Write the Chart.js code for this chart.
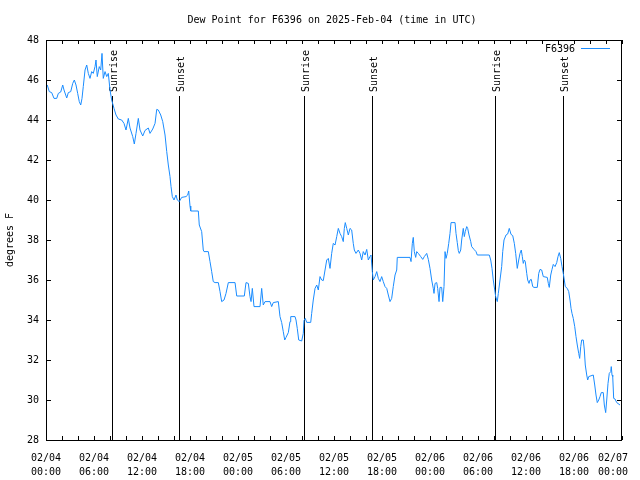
<!DOCTYPE html>
<html><head><meta charset="utf-8">
<script src="https://cdn.jsdelivr.net/npm/chart.js@4/dist/chart.umd.min.js"></script>
<style>html,body{margin:0;padding:0;background:#fff}#wrap{width:640px;height:480px}</style>
</head><body><div id="wrap"><canvas id="c" width="640" height="480"></canvas></div>
<script>
// hours since 2025-02-04 00:00 UTC
const hours = [
0.16,0.41,0.71,1.0,1.34,1.54,1.84,2.09,2.25,2.59,2.79,3.09,3.34,3.54,3.75,3.96,4.16,4.34,4.5,4.66,
4.88,5.09,5.29,5.5,5.71,5.91,6.13,6.25,6.41,6.66,6.84,7.0,7.16,7.38,7.59,7.79,8.0,8.21,
8.5,8.75,9.04,9.46,9.75,10.0,10.29,10.5,10.84,11.04,11.25,11.54,11.75,12.09,12.38,12.79,13.0,13.34,13.63,13.84,
14.04,14.34,14.59,14.88,15.09,15.29,15.5,15.63,15.79,16.0,16.25,16.41,16.66,16.96,17.5,17.71,17.84,18.0,18.09,19.04,
19.16,19.46,19.66,19.75,
20.29,20.5,20.71,20.91,21.13,21.54,21.75,21.96,22.25,22.5,22.79,23.63,23.84,24.79,25.0,25.29,25.5,25.63,25.79,26.0,
26.75,26.96,27.16,27.38,28.0,28.21,28.41,29.04,
29.25,29.46,29.66,29.84,30.0,30.29,30.5,30.59,31.13,31.25,31.41,31.59,31.96,32.16,32.25,
32.41,32.59,33.09,33.21,33.41,33.63,33.84,34.04,34.25,34.46,34.66,34.88,35.09,35.29,35.5,35.71,35.91,36.13,36.34,36.54,
36.75,36.96,37.16,37.29,37.41,37.59,37.79,38.0,38.21,38.41,38.54,38.75,39.04,39.25,39.46,39.66,39.88,40.09,40.29,40.5,
40.63,40.79,40.91,41.13,41.34,41.54,41.75,41.96,42.16,42.38,42.59,42.79,43.0,43.21,43.41,43.63,43.84,43.91,
45.5,45.63,45.79,45.91,46.04,46.21,46.34,46.54,46.84,47.09,47.29,47.59,47.79,48.0,48.21,48.41,48.5,48.63,48.84,48.96,
49.13,49.25,49.46,49.59,49.75,49.88,50.0,50.16,50.34,50.5,50.63,51.13,51.25,51.41,51.54,51.66,51.84,51.96,52.16,52.29,
52.41,52.59,52.71,52.88,53.09,53.21,53.5,53.75,53.91,
55.41,55.59,55.75,55.91,56.09,56.21,56.41,56.54,56.75,56.96,57.09,57.25,57.5,57.71,57.91,58.13,58.34,58.54,58.71,58.91,
59.09,59.25,59.41,59.54,59.66,59.79,59.91,60.09,60.21,60.38,60.5,60.66,60.84,61.0,61.41,61.59,61.75,61.96,62.16,62.66,
62.79,62.91,63.09,63.25,63.41,63.63,63.84,64.0,64.16,64.34,64.5,64.66,64.79,64.91,65.16,65.34,65.5,65.63,65.75,65.91,
66.09,66.25,66.41,66.59,66.71,66.84,66.96,67.16,67.29,67.41,67.59,67.71,67.84,68.41,68.59,68.75,68.91,69.09,69.25,69.41,
69.66,69.79,69.96,70.09,70.25,70.41,70.59,70.66,70.75,70.84,70.96,71.13,71.34,71.75
];
// dew point, degrees F
const dewPoint = [
45.75,45.42,45.37,45.08,45.08,45.33,45.4,45.75,45.5,45.1,45.37,45.42,45.83,46.0,45.75,45.33,44.92,44.75,45.08,45.67,
46.5,46.75,46.33,46.08,46.42,46.33,46.67,47.0,46.17,46.67,46.5,47.33,46.08,46.42,46.17,46.33,45.5,45.0,
44.58,44.25,44.05,44.0,43.83,43.5,44.08,43.6,43.17,42.8,43.33,44.08,43.5,43.2,43.48,43.6,43.33,43.55,43.83,44.53,
44.5,44.25,43.92,43.25,42.42,41.75,41.17,40.67,40.17,40.0,40.25,40.0,39.92,40.13,40.17,40.25,40.45,39.7,39.45,39.45,
38.75,38.42,37.5,37.42,
37.42,36.92,36.42,35.92,35.87,35.87,35.42,34.92,35.0,35.33,35.87,35.87,35.2,35.2,35.87,35.83,35.17,34.92,35.58,34.67,
34.67,35.58,34.75,34.92,34.92,34.67,34.87,34.92,
34.17,33.87,33.42,33.0,33.13,33.37,33.92,34.17,34.17,34.0,33.58,33.0,32.95,33.33,33.97,
34.08,33.88,33.88,34.33,35.0,35.58,35.75,35.5,36.17,36.0,35.97,36.5,37.0,37.08,36.58,37.33,37.83,37.75,38.17,38.58,
38.33,38.17,37.92,38.58,38.87,38.58,38.25,38.58,38.5,37.83,37.5,37.33,37.5,37.33,37.0,37.42,37.25,37.53,37.0,37.17,
37.25,36.42,36.0,36.17,36.42,36.08,35.92,36.17,35.92,35.67,35.58,35.25,34.92,35.08,35.67,36.25,36.5,37.13,
37.13,36.92,37.83,38.13,37.42,37.13,37.42,37.33,37.17,37.03,37.17,37.33,37.03,36.58,36.0,35.58,35.33,35.83,35.87,35.58,
34.92,35.63,35.63,34.92,35.67,37.42,37.08,37.33,37.83,38.33,38.87,38.87,38.33,37.87,37.47,37.33,37.5,38.0,38.58,38.17,
38.42,38.67,38.58,38.25,37.92,37.67,37.53,37.42,37.25,
37.25,37.0,36.58,36.0,35.5,35.17,34.92,35.33,36.0,36.67,37.42,38.0,38.25,38.3,38.58,38.28,38.22,37.83,37.33,36.58,
37.0,37.33,37.5,37.17,36.83,37.0,36.92,36.33,36.0,35.83,36.0,36.03,35.67,35.63,35.63,36.33,36.53,36.5,36.17,36.13,
35.83,35.63,36.25,36.53,36.78,36.67,36.87,37.17,37.37,37.08,36.67,36.33,36.0,35.67,35.58,35.42,35.0,34.58,34.33,34.08,
33.67,33.17,32.75,32.33,32.08,32.67,33.0,33.0,32.5,31.75,31.25,31.0,31.17,31.25,30.75,30.25,29.87,30.0,30.17,30.37,
30.37,29.75,29.37,30.0,30.83,31.33,31.42,31.67,31.25,31.17,30.08,30.05,29.87,29.75
];
const eventNames = ['Sunrise','Sunset','Sunrise','Sunset','Sunrise','Sunset'];
const eventHours = [8.25,16.66,32.29,40.7,56.17,64.66];
const xTickDays  = ['02/04','02/04','02/04','02/04','02/05','02/05','02/05','02/05','02/06','02/06','02/06','02/06','02/07'];
const xTickTimes = ['00:00','06:00','12:00','18:00','00:00','06:00','12:00','18:00','00:00','06:00','12:00','18:00','00:00'];
const seriesName = 'F6396';
const titleText = 'Dew Point for F6396 on 2025-Feb-04 (time in UTC)';
const yTitle = 'degrees F';

const MONO = '"DejaVu Sans Mono", monospace';
const LINE_COLOR = '#1a8cff';

const frame = {
  id: 'frame',
  beforeDatasetsDraw(chart) {
    const {ctx, chartArea: a, scales: {x}} = chart;
    ctx.save();
    ctx.strokeStyle = '#000'; ctx.lineWidth = 1; ctx.fillStyle = '#000';
    ctx.font = '10px ' + MONO;
    eventHours.forEach((h, i) => {
      const px = Math.round(x.getPixelForValue(h)) + 0.5;
      ctx.beginPath(); ctx.moveTo(px, 96); ctx.lineTo(px, a.bottom); ctx.stroke();
      ctx.save();
      ctx.translate(px + 2, 92); ctx.rotate(-Math.PI / 2);
      ctx.textAlign = 'left'; ctx.textBaseline = 'middle';
      ctx.fillText(eventNames[i], 0, 0);
      ctx.restore();
    });
    ctx.restore();
  },
  afterDatasetsDraw(chart) {
    const {ctx, chartArea: a, scales: {x, y}} = chart;
    ctx.save();
    ctx.strokeStyle = '#000'; ctx.lineWidth = 1;
    ctx.strokeRect(Math.round(a.left) + 0.5, Math.round(a.top) + 0.5, Math.round(a.width) - 1, Math.round(a.height));
    ctx.beginPath();
    for (let h = 0; h <= 72; h += 2) {
      const px = Math.round(x.getPixelForValue(h)) + 0.5;
      ctx.moveTo(px, a.bottom); ctx.lineTo(px, a.bottom - 4);
      ctx.moveTo(px, a.top); ctx.lineTo(px, a.top + 4);
    }
    for (let v = 28; v <= 48; v += 2) {
      const py = Math.round(y.getPixelForValue(v)) + 0.5;
      ctx.moveTo(a.left, py); ctx.lineTo(a.left + 5, py);
      ctx.moveTo(a.right, py); ctx.lineTo(a.right - 5, py);
    }
    ctx.stroke();
    ctx.restore();
  },
  afterDraw(chart) {
    const {ctx} = chart;
    ctx.save();
    ctx.fillStyle = '#000';
    ctx.font = '10px ' + MONO;
    ctx.textAlign = 'center'; ctx.textBaseline = 'middle';
    ctx.fillText(titleText, 332, 20);
    ctx.textAlign = 'right';
    ctx.fillText(chart.data.datasets[0].label, 575, 49);
    ctx.strokeStyle = LINE_COLOR; ctx.lineWidth = 1;
    ctx.beginPath(); ctx.moveTo(581, 48.5); ctx.lineTo(610, 48.5); ctx.stroke();
    ctx.restore();
  }
};

new Chart(document.getElementById('c'), {
  type: 'line',
  data: {
    datasets: [{
      label: seriesName,
      data: hours.map((h, i) => ({x: h, y: dewPoint[i]})),
      borderColor: LINE_COLOR,
      borderWidth: 1,
      pointRadius: 0,
      tension: 0,
      fill: false
    }]
  },
  options: {
    responsive: false,
    animation: false,
    devicePixelRatio: 1,
    layout: {padding: {top: 40, right: 18, left: 0, bottom: 0}},
    plugins: {legend: {display: false}, title: {display: false}, tooltip: {enabled: false}},
    scales: {
      x: {
        type: 'linear', min: 0, max: 72,
        afterFit(s) { s.height = 40; s.paddingLeft = 0; s.paddingRight = 0; },
        grid: {display: false, drawTicks: false, tickLength: 0},
        border: {display: false},
        ticks: {
          stepSize: 2, autoSkip: false, maxRotation: 0, minRotation: 0,
          padding: 11, color: '#000',
          font: {family: MONO, size: 10, lineHeight: 1.4},
          callback: (v) => {
            if (v % 6 !== 0) return '';
            const pad = v === 72 ? '   ' : '';
            return [xTickDays[v / 6] + pad, xTickTimes[v / 6] + pad];
          }
        }
      },
      y: {
        min: 28, max: 48,
        afterFit(s) { s.width = 46; s.paddingTop = 0; s.paddingBottom = 0; },
        grid: {display: false, drawTicks: false, tickLength: 0},
        border: {display: false},
        ticks: {stepSize: 2, padding: 7, color: '#000', font: {family: MONO, size: 10}},
        title: {display: true, text: yTitle, color: '#000', font: {family: MONO, size: 10}, padding: {top: 4, bottom: 0}}
      }
    }
  },
  plugins: [frame]
});
</script>
</body></html>
